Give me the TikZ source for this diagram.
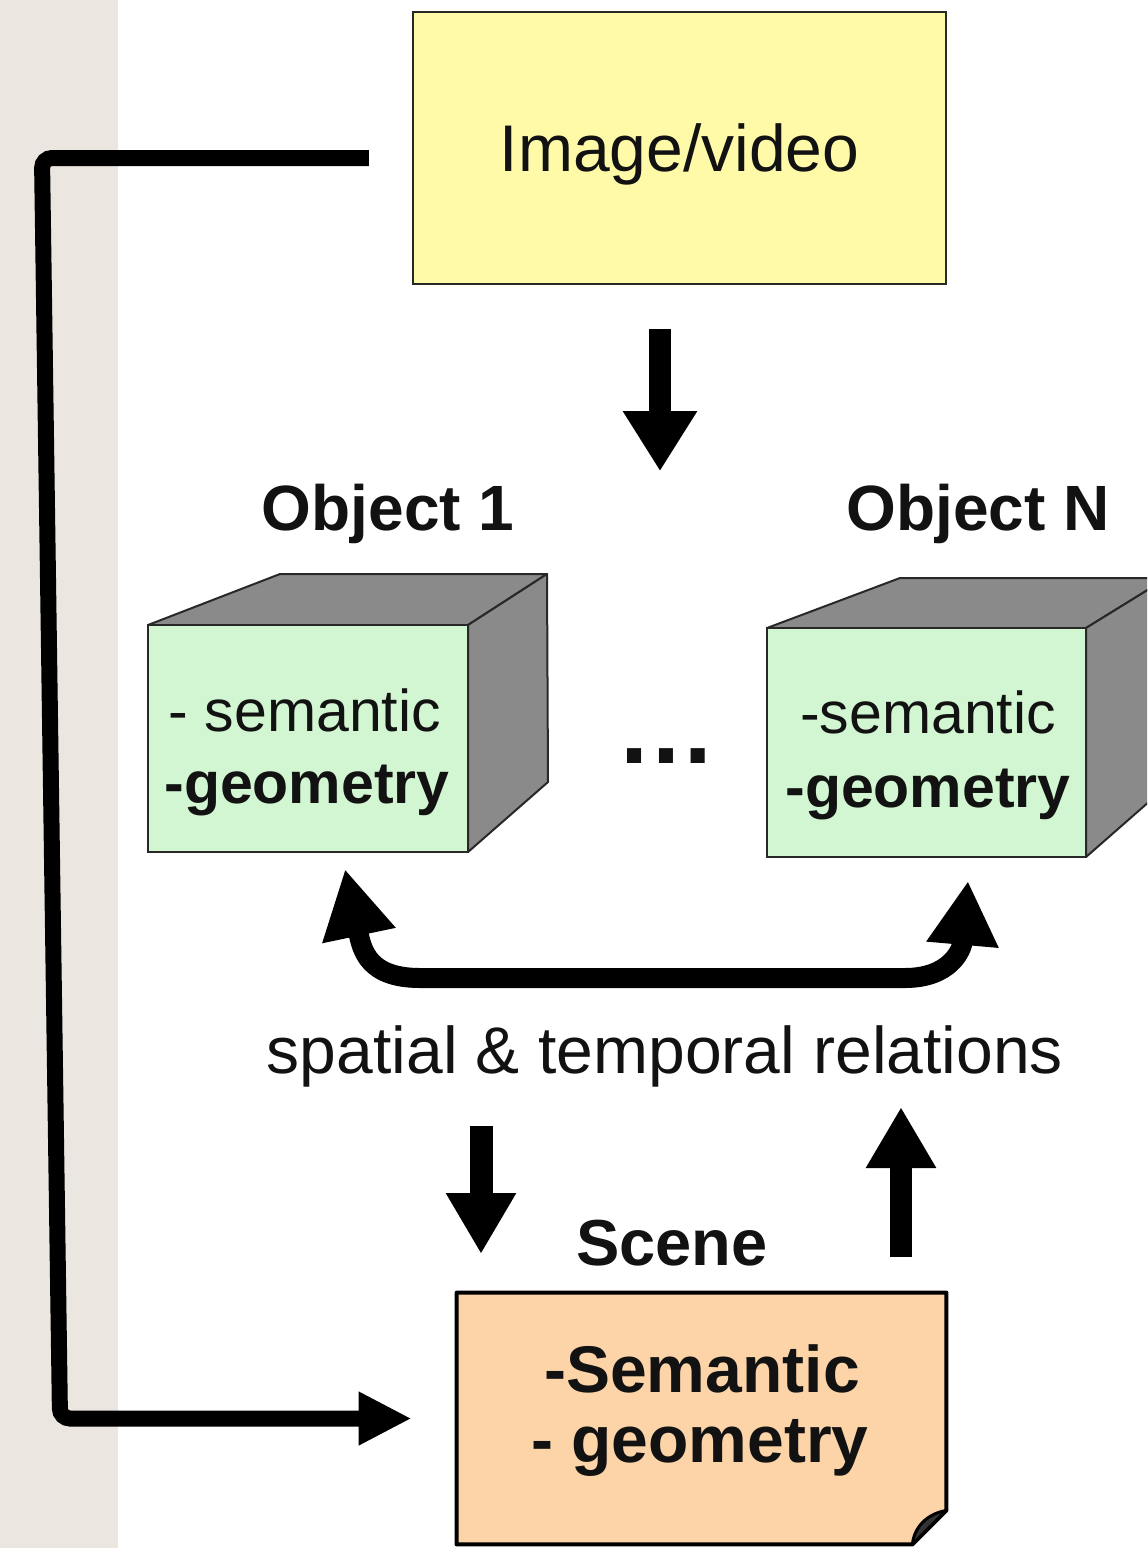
\documentclass[tikz,border=0pt]{standalone}
\usepackage{fontspec}
\setmainfont{Liberation Sans}
\usetikzlibrary{arrows.meta}
\definecolor{strip}{RGB}{236,230,224}
\definecolor{imgfill}{RGB}{255,250,168}
\definecolor{facefill}{RGB}{210,246,210}
\definecolor{sidefill}{RGB}{138,138,138}
\definecolor{scenefill}{RGB}{252,212,168}
\definecolor{ink}{RGB}{18,18,18}
\definecolor{edge}{RGB}{40,40,40}

\begin{document}
\begin{tikzpicture}[x=0.5pt,y=-0.5pt,
  lbl/.style={text=ink, inner sep=0pt, anchor=base, font=\fontsize{#1}{#1}\selectfont},
  blbl/.style={text=ink, inner sep=0pt, anchor=base, font=\fontsize{#1}{#1}\selectfont\bfseries},
  face/.style={draw=edge, line width=1pt, fill=facefill, inner sep=0pt},
  shell/.style={draw=edge, line width=1pt, fill=sidefill, line join=round},
  bigarrow/.style={line width=#1, draw=black},
  feedhead/.style={-{Triangle[width=25pt,length=26.5pt]}},
  flowhead/.style={-{Triangle[width=35pt,length=30pt]}},
  relhead/.style={{Triangle[width=35pt,length=34pt]}-{Triangle[width=34pt,length=32pt]}},
  stephead/.style={-{Triangle[width=33pt,length=30.5pt]}}
]
\useasboundingbox (0,0) rectangle (1147,1548);
\clip (0,0) rectangle (1147,1548);
\fill[white] (0,0) rectangle (1147,1548);
\fill[strip] (0,0) rectangle (118,1548);

% input box
\node[draw=edge, line width=1.2pt, fill=imgfill, minimum width=266.5pt, minimum height=136pt,
      inner sep=0pt, text=ink, font=\fontsize{33}{33}\selectfont, text depth=0pt]
  (img) at (679.5,148) {Image/video};

% object 1 cube
\filldraw[shell] (148,625) -- (280,574) -- (547,574) -- (468,625) -- cycle;
\filldraw[shell] (468,625) -- (547,574) -- (548,782) -- (468,852) -- cycle;
\node[face, minimum width=160pt, minimum height=113.5pt] (obj1) at (308,738.5) {};
\node[blbl=32] (obj1title) at (388,530) {Object 1};
\node[lbl=29.5] (obj1sem) at (305,731) {- semantic};
\node[blbl=29.5] (obj1geo) at (307,803) {-geometry};

% object N cube
\filldraw[shell] (767,628) -- (900,578) -- (1167,578) -- (1086,628) -- cycle;
\filldraw[shell] (1086,628) -- (1167,578) -- (1167,786) -- (1086,857) -- cycle;
\node[face, minimum width=159.5pt, minimum height=114.5pt] (objN) at (926.5,742.5) {};
\node[blbl=32] (objNtitle) at (978,530) {Object N};
\node[lbl=29.5] (objNsem) at (928,733) {-semantic};
\node[blbl=29.5] (objNgeo) at (928,807) {-geometry};

\node[blbl=50] (dots) at (666,763) {…};

% relations label
\node[lbl=33] (rel) at (665,1073) {spatial \& temporal relations};

% scene box with folded corner
\node[minimum width=244.5pt, minimum height=125.5pt, inner sep=0pt] (scene) at (701.5,1418.5) {};
\filldraw[fill=scenefill, draw=black, line width=2pt, line join=round]
  (scene.north west) -- (scene.north east) -- ([yshift=17pt]scene.south east)
  -- ([xshift=-17pt]scene.south east) -- (scene.south west) -- cycle;
\filldraw[fill=black!80, draw=black, line width=1.5pt, line join=round]
  ([yshift=17pt]scene.south east) .. controls (926,1514) and (914,1528) .. ([xshift=-17pt]scene.south east) -- cycle;
\node[blbl=32.5] (scenetitle) at (672,1265) {Scene};
\node[blbl=33] (scenesem) at (702,1392) {-Semantic};
\node[blbl=33] (scenegeo) at (700,1462) {- geometry};

% connectors
\coordinate (fbstart) at ([shift={(-43,10)}]img.west);
\coordinate (fbend) at ([xshift=-22.5pt]scene.west);
\draw[bigarrow=8pt, feedhead, rounded corners=5pt]
  (fbstart) -- (42,158) -- (60,1418.5) -- (fbend);

\coordinate (downtop) at ([shift={(-19.5,44)}]img.south);
\coordinate (downtip) at ([shift={(-19.5,186)}]img.south);
\draw[bigarrow=11pt, flowhead] (downtop) -- (downtip);

\coordinate (lt) at ([shift={(37,16)}]obj1.south);
\coordinate (rt) at ([shift={(41.5,23)}]objN.south);
\draw[bigarrow=10pt, relhead, line join=round]
  (lt) .. controls (362,950) and (368,978) .. (420,978) -- (905,978)
  .. controls (950,978) and (962,950) .. (rt);

\coordinate (sdtop) at (481,1126);
\coordinate (sdtip) at (481,1254);
\draw[bigarrow=11.5pt, stephead] (sdtop) -- (sdtip);

\coordinate (subot) at (901,1257);
\coordinate (sutip) at (901,1107);
\draw[bigarrow=11pt, stephead] (subot) -- (sutip);
\end{tikzpicture}
\end{document}
